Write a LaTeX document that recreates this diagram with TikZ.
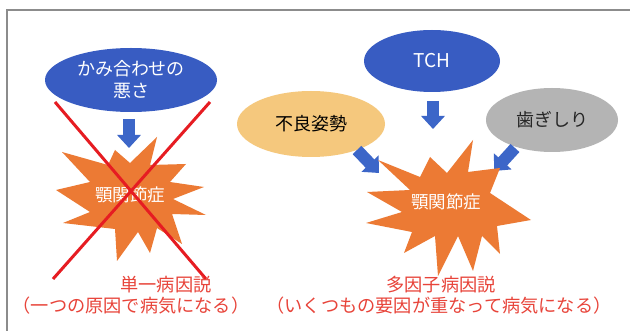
\documentclass[tikz,border=0pt]{standalone}
\usepackage{fontspec}
\setmainfont{Noto Sans CJK JP}
\usetikzlibrary{shapes.geometric,arrows.meta}
\definecolor{ellblue}{RGB}{56,92,194}
\definecolor{arrblue}{RGB}{60,102,200}
\definecolor{starorange}{RGB}{236,122,52}
\definecolor{goldfill}{RGB}{245,200,125}
\definecolor{grayfill}{RGB}{180,180,180}
\definecolor{xred}{RGB}{230,28,34}
\definecolor{txtred}{RGB}{232,68,58}
\definecolor{framegray}{RGB}{140,140,140}
\tikzset{
  cause/.style={ellipse, inner sep=0pt, font=\fontsize{18}{22}\selectfont, align=center},
  bluecause/.style={cause, fill=ellblue, text=white},
  blockarrow/.style={draw=arrblue, line width=12pt, -{Triangle[width=23pt,length=13pt]}, shorten >=0pt},
  starfill/.style={fill=starorange, draw=none},
  startext/.style={text=white, font=\fontsize{17.5}{20}\selectfont},
  crossline/.style={draw=xred, line width=3pt},
  caption/.style={text=txtred, font=\fontsize{18.2}{21}\selectfont, align=center},
}
\begin{document}
\begin{tikzpicture}[x=1pt, y=-1pt]
\useasboundingbox (0,0) rectangle (630,331);
\fill[white] (0,0) rectangle (630,331);
% frame
\draw[framegray, line width=1.5pt] (7,331) -- (7,10) -- (630,10);

% ---------- left part ----------
\node[bluecause, minimum width=172pt, minimum height=64pt] (kami) at (131,80) {かみ合わせの\\悪さ};
\coordinate (la1) at (129,119);
\coordinate (la2) at (129,148);
\draw[blockarrow] (la1) -- (la2);
\fill[starfill] (62,152) -- (108,165) -- (115,150) -- (130,163) -- (157,137) -- (150,165)
  -- (186,164) -- (170,182) -- (204,187) -- (173,199) -- (206,215) -- (172,214)
  -- (182,244) -- (157,228) -- (150,253) -- (138,232) -- (117,261) -- (115,229)
  -- (63,223) -- (90,212) -- (56,190) -- (90,182) -- cycle;
\node[startext] (tmdl) at (130,195) {顎関節症};

% ---------- right part ----------
\node[bluecause, minimum width=136pt, minimum height=62pt, font=\fontsize{19}{22}\selectfont] (tch) at (432,61) {TCH};
\node[cause, fill=goldfill, text=black, minimum width=148pt, minimum height=66pt] (shisei) at (311,124) {不良姿勢};
\node[cause, fill=grayfill, text=black!85, minimum width=132pt, minimum height=64pt] (hagi) at (552,120) {歯ぎしり};

\coordinate (ta1) at (433,101);
\coordinate (ta2) at (433,129);
\draw[blockarrow] (ta1) -- (ta2);
\coordinate (sa1) at (357,150);
\coordinate (sa2) at (379,173);
\draw[blockarrow] (sa1) -- (sa2);
\coordinate (ha1) at (515,148);
\coordinate (ha2) at (494,171);
\draw[blockarrow] (ha1) -- (ha2);

\fill[starfill] (378,160) -- (420,177) -- (430,157) -- (447,173) -- (473,140) -- (468,172)
  -- (500,168) -- (490,193) -- (531,220) -- (497,226) -- (500,254) -- (482,236)
  -- (473,271) -- (458,236) -- (438,276) -- (435,236) -- (404,253) -- (412,232)
  -- (366,223) -- (402,212) -- (367,192) -- (410,190) -- cycle;
\node[startext] (tmdr) at (446,202) {顎関節症};

% ---------- red cross ----------
\coordinate (x1) at (55,102);
\coordinate (x2) at (206,279);
\coordinate (x3) at (210,102);
\coordinate (x4) at (53,279);
\draw[crossline] (x1) -- (x2);
\draw[crossline] (x3) -- (x4);

% ---------- captions ----------
\node[caption] (cap1a) at (166,285) {単一病因説};
\node[caption] (cap1b) at (131,306) {（一つの原因で病気になる）};
\node[caption] (cap2a) at (441,285) {多因子病因説};
\node[caption] (cap2b) at (439,306) {（いくつもの要因が重なって病気になる）};
\end{tikzpicture}
\end{document}
